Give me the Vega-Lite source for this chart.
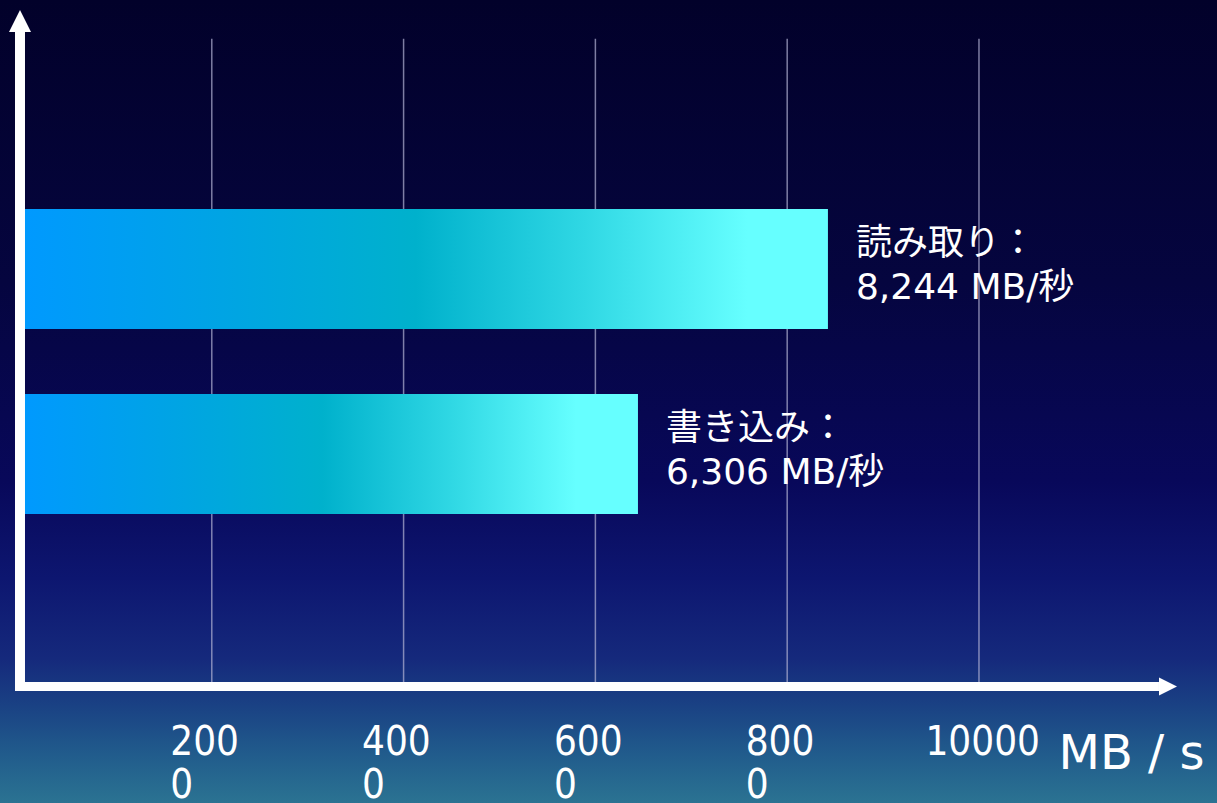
{
  "$schema": "https://vega.github.io/schema/vega-lite/v6.json",
  "width": 1217,
  "height": 803,
  "padding": 0,
  "autosize": {"type": "none"},
  "background": "#03022e",
  "view": {
    "stroke": null,
    "fill": {
      "gradient": "linear",
      "x1": 0, "y1": 0, "x2": 0, "y2": 1,
      "stops": [
        {"offset": 0.0, "color": "#02012a"},
        {"offset": 0.35, "color": "#05053f"},
        {"offset": 0.6, "color": "#08085a"},
        {"offset": 0.72, "color": "#0d1670"},
        {"offset": 0.82, "color": "#15297c"},
        {"offset": 0.88, "color": "#1a4284"},
        {"offset": 0.94, "color": "#215c8c"},
        {"offset": 1.0, "color": "#2b7392"}
      ]
    }
  },
  "data": {"values": [{}]},
  "layer": [
    {
      "data": {"values": [{"tick": 2000}, {"tick": 4000}, {"tick": 6000}, {"tick": 8000}, {"tick": 10000}]},
      "mark": {"type": "rule", "color": "#b4b4d4", "strokeWidth": 1.5, "opacity": 0.7},
      "encoding": {
        "x": {
          "field": "tick", "type": "quantitative", "title": "MB / s",
          "scale": {"domain": [-208.5, 12482], "nice": false, "zero": false},
          "axis": {
            "values": [2000, 4000, 6000, 8000, 10000],
            "format": "d",
            "labelExpr": "datum.value < 10000 ? [substring(datum.label, 0, 3), substring(datum.label, 3)] : datum.label",
            "offset": -116.6,
            "domain": false,
            "ticks": false,
            "tickSize": 0,
            "grid": false,
            "labelAlign": "left",
            "labelBaseline": "alphabetic",
            "labelOffset": {"condition": {"test": "datum.value == 10000", "value": -54}, "value": -42},
            "labelPadding": 68.5,
            "labelFont": "DejaVu Sans Condensed",
            "labelFontSize": 40,
            "labelLineHeight": 43,
            "labelColor": "#ffffff",
            "labelFlush": false,
            "labelOverlap": false,
            "labelBound": false,
            "title": "MB / s",
            "titleFont": "DejaVu Sans",
            "titleFontSize": 48,
            "titleFontWeight": "normal",
            "titleColor": "#ffffff",
            "titleAlign": "left",
            "titleBaseline": "alphabetic",
            "titleAngle": 0,
            "titleX": 1058,
            "titleY": 82
          }
        },
        "y": {"datum": 0, "type": "quantitative", "axis": null, "scale": {"domain": [-18, 106], "nice": false, "zero": false}},
        "y2": {"datum": 100}
      }
    },
    {
      "data": {"values": [
        {"op": "読み取り", "speed": 8244, "bar_len": 8425, "label": "読み取り：\n8,244 MB/秒"},
        {"op": "書き込み", "speed": 6306, "bar_len": 6444, "label": "書き込み：\n6,306 MB/秒"}
      ]},
      "encoding": {
        "y": {
          "field": "op", "type": "nominal", "sort": null, "axis": null,
          "scale": {"range": [209, 514], "paddingInner": 0.351, "paddingOuter": 0}
        }
      },
      "layer": [
        {
          "mark": {
            "type": "bar",
            "color": {
              "gradient": "linear",
              "x1": 0, "y1": 0, "x2": 1, "y2": 0,
              "stops": [
                {"offset": 0.0, "color": "#0099ff"},
                {"offset": 0.25, "color": "#00a4e4"},
                {"offset": 0.49, "color": "#00b1cc"},
                {"offset": 0.7, "color": "#30d8e4"},
                {"offset": 0.9, "color": "#66ffff"},
                {"offset": 1.0, "color": "#66ffff"}
              ]
            }
          },
          "encoding": {
            "x": {"field": "bar_len", "type": "quantitative", "title": "MB / s", "scale": {"domain": [-208.5, 12482], "nice": false, "zero": false}},
            "x2": {"datum": 0}
          }
        },
        {
          "mark": {
            "type": "text",
            "align": "left",
            "baseline": "alphabetic",
            "dx": 28,
            "dy": -14,
            "lineBreak": "\n",
            "lineHeight": 44,
            "font": "DejaVu Sans, Noto Sans CJK JP",
            "fontSize": 36,
            "color": "#ffffff"
          },
          "encoding": {
            "x": {"field": "bar_len", "type": "quantitative", "title": "MB / s", "scale": {"domain": [-208.5, 12482], "nice": false, "zero": false}},
            "text": {"field": "label", "type": "nominal"}
          }
        }
      ]
    },
    {
      "encoding": {
        "y": {"datum": 0, "type": "quantitative", "axis": null, "scale": {"domain": [-18, 106], "nice": false, "zero": false}}
      },
      "layer": [
        {
          "mark": {"type": "rule", "color": "#ffffff", "strokeWidth": 10},
          "encoding": {
            "x": {"datum": 0, "type": "quantitative", "title": "MB / s", "scale": {"domain": [-208.5, 12482], "nice": false, "zero": false}},
            "y": {"datum": -0.7, "type": "quantitative", "axis": null, "scale": {"domain": [-18, 106], "nice": false, "zero": false}},
            "y2": {"datum": 101.4}
          }
        },
        {
          "mark": {"type": "rule", "color": "#ffffff", "strokeWidth": 9},
          "encoding": {
            "x": {"datum": -52, "type": "quantitative", "title": "MB / s", "scale": {"domain": [-208.5, 12482], "nice": false, "zero": false}},
            "x2": {"datum": 11877}
          }
        },
        {
          "mark": {"type": "point", "shape": "M0,-1L-1,1L1,1Z", "filled": true, "color": "#ffffff", "opacity": 1, "size": 484, "strokeWidth": 0},
          "encoding": {
            "x": {"datum": 0, "type": "quantitative", "title": "MB / s", "scale": {"domain": [-208.5, 12482], "nice": false, "zero": false}},
            "y": {"datum": 102.75, "type": "quantitative", "axis": null, "scale": {"domain": [-18, 106], "nice": false, "zero": false}}
          }
        },
        {
          "mark": {"type": "point", "shape": "M1,0L-1,-1L-1,1Z", "filled": true, "color": "#ffffff", "opacity": 1, "size": 324, "strokeWidth": 0},
          "encoding": {
            "x": {"datum": 11971, "type": "quantitative", "title": "MB / s", "scale": {"domain": [-208.5, 12482], "nice": false, "zero": false}}
          }
        }
      ]
    }
  ],
  "resolve": {"scale": {"y": "independent"}, "axis": {"y": "independent"}},
  "config": {
    "view": {"stroke": null}
  }
}
